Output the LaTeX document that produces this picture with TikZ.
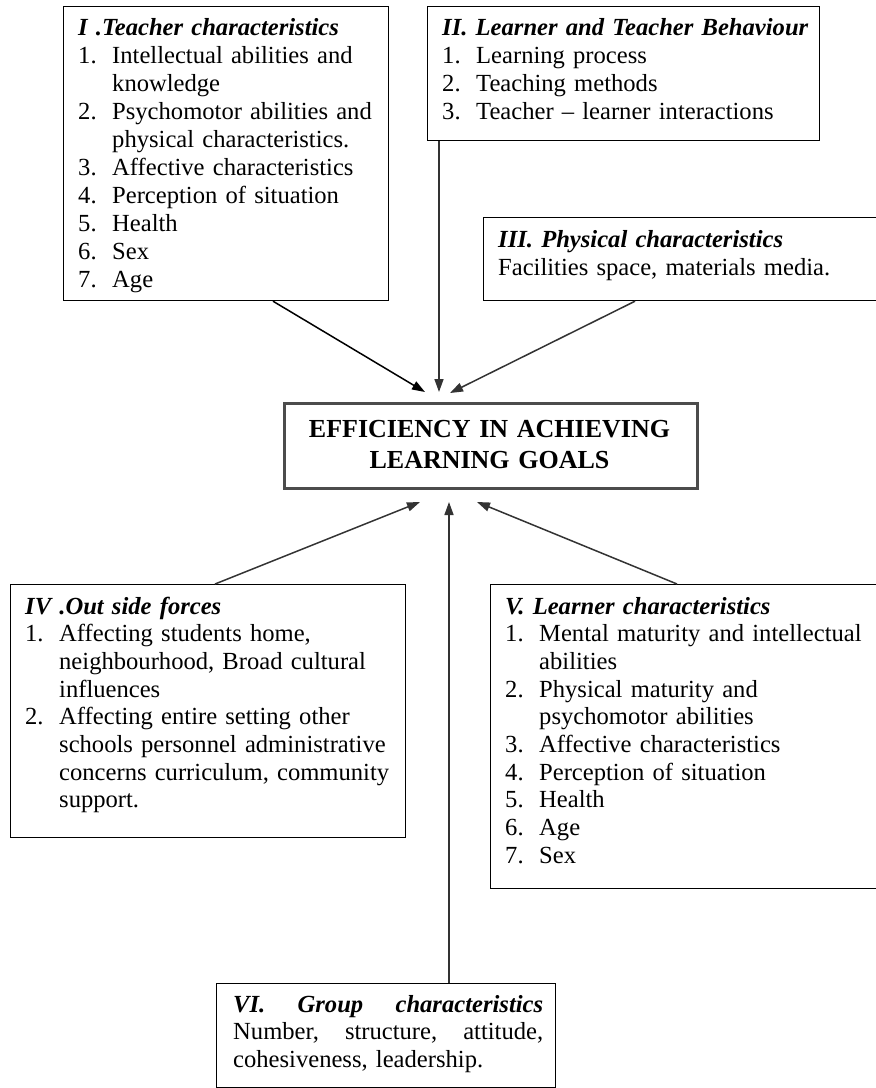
\documentclass[tikz,border=0pt]{standalone}
\usepackage{fontspec}
\setmainfont{Liberation Serif}
\usetikzlibrary{arrows.meta}
\newcommand\itm[1]{\makebox[34pt][l]{#1}}
\newcommand\ind{\hspace*{34pt}}
\newcommand\hd[1]{\textbf{\textit{#1}}}
\begin{document}
\begin{tikzpicture}[x=1pt,y=-1pt,
  box/.style={draw=black, line width=1.2pt, anchor=north west, inner sep=0pt, fill=none},
  txt/.style={anchor=base west, inner sep=0pt, text width=400pt, align=left,
              font=\fontsize{24.6}{28}\selectfont},
  txtb/.style={anchor=base west, inner sep=0pt, text width=400pt, align=left,
              font=\fontsize{24.6}{27.7}\selectfont},
  arr/.style={line width=1.5pt, draw=black!80, -{Triangle[length=13pt,width=9pt]}}
]
\useasboundingbox (0,0) rectangle (876,1088);
\fill[white] (0,0) rectangle (876,1088);

% boxes
\node[box, minimum width=325pt, minimum height=294pt] (b1) at (63,6) {};
\node[box, minimum width=392pt, minimum height=134pt] (b2) at (427,6) {};
\node[box, minimum width=394pt, minimum height=83pt] (b3) at (483,217) {};
\node[draw=black!70, line width=3pt, anchor=north west, inner sep=0pt,
      minimum width=413pt, minimum height=85pt] (goal) at (283,402) {};
\node[box, minimum width=395pt, minimum height=253pt] (b4) at (10,584) {};
\node[box, minimum width=387pt, minimum height=304pt] (b5) at (490,584) {};
\node[box, minimum width=339pt, minimum height=104pt] (b6) at (216,983) {};

% texts
\node[txt] (t1) at (78,35) {\hd{I .Teacher characteristics}\\
\itm{1.}Intellectual abilities and\\
\ind knowledge\\
\itm{2.}Psychomotor abilities and\\
\ind physical characteristics.\\
\itm{3.}Affective characteristics\\
\itm{4.}Perception of situation\\
\itm{5.}Health\\
\itm{6.}Sex\\
\itm{7.}Age};

\node[txt] (t2) at (442,35) {\hd{II. Learner and Teacher Behaviour}\\
\itm{1.}Learning process\\
\itm{2.}Teaching methods\\
\itm{3.}Teacher -- learner interactions};

\node[txt] (t3) at (498,247) {\hd{III. Physical characteristics}\\
Facilities space, materials media.};

\node[anchor=base, inner sep=0pt, text width=413pt, align=center,
      font=\fontsize{26}{31}\selectfont\bfseries] (tg) at (489.5,437)
      {EFFICIENCY IN ACHIEVING\\LEARNING GOALS};

\node[txtb] (t4) at (25,614) {\hd{IV .Out side forces}\\
\itm{1.}Affecting students home,\\
\ind neighbourhood, Broad cultural\\
\ind influences\\
\itm{2.}Affecting entire setting other\\
\ind schools personnel administrative\\
\ind concerns curriculum, community\\
\ind support.};

\node[txtb] (t5) at (505,614) {\hd{V. Learner characteristics}\\
\itm{1.}Mental maturity and intellectual\\
\ind abilities\\
\itm{2.}Physical maturity and\\
\ind psychomotor abilities\\
\itm{3.}Affective characteristics\\
\itm{4.}Perception of situation\\
\itm{5.}Health\\
\itm{6.}Age\\
\itm{7.}Sex};

\node[anchor=base west, inner sep=0pt, text width=320pt, align=left,
      font=\fontsize{24.6}{27.5}\selectfont] (t6) at (233,1012)
{\makebox[310pt][l]{\hd{VI.}\hfill\hd{Group}\hfill\hd{characteristics}}\\
\makebox[310pt][l]{Number,\hfill structure,\hfill attitude,}\\
cohesiveness, leadership.};

% connector end points
\coordinate (s1) at ([xshift=210pt]b1.south west);
\coordinate (e1) at (425,392);
\coordinate (s2) at ([xshift=12pt]b2.south west);
\coordinate (e2) at (439,392);
\coordinate (s3) at ([xshift=152pt]b3.south west);
\coordinate (e3) at (450,393);
\coordinate (s4) at ([xshift=205pt]b4.north west);
\coordinate (e4) at (420,502);
\coordinate (s5) at ([xshift=187pt]b5.north west);
\coordinate (e5) at (477,502);
\coordinate (s6) at ([xshift=233pt]b6.north west);
\coordinate (e6) at (449,502);

\draw[arr, draw=black] (s1) -- (e1);
\draw[arr] (s2) -- (e2);
\draw[arr] (s3) -- (e3);
\draw[arr] (s4) -- (e4);
\draw[arr] (s5) -- (e5);
\draw[arr] (s6) -- (e6);
\end{tikzpicture}
\end{document}
